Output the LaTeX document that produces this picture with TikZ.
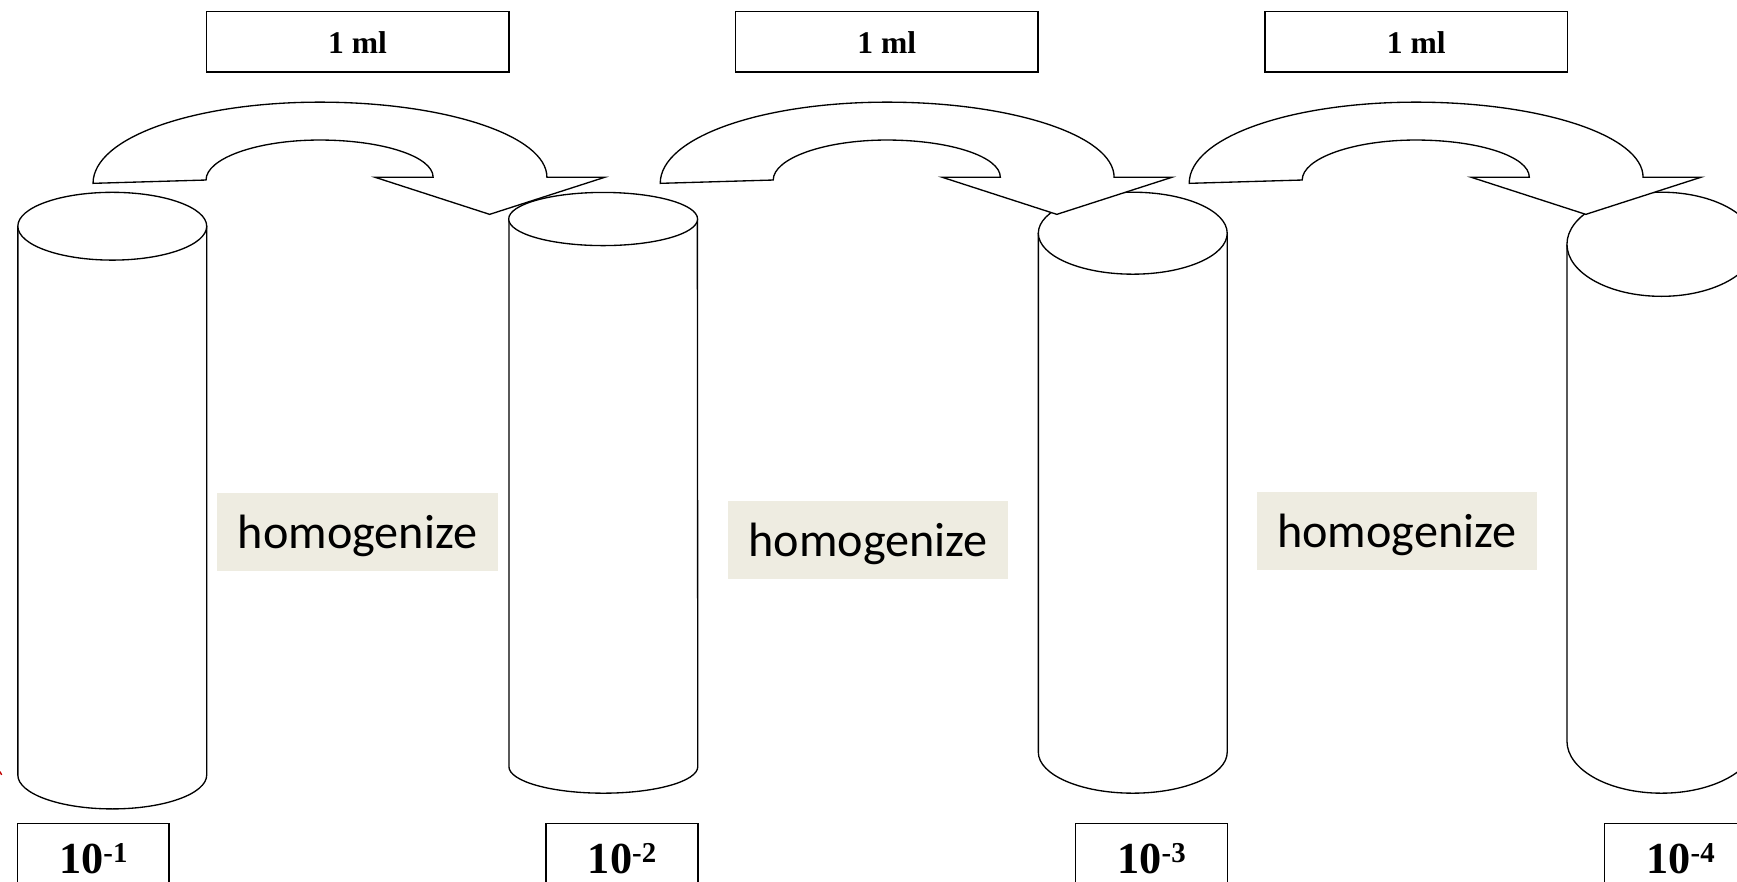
\documentclass[tikz,border=0pt]{standalone}
\usepackage{fontspec}
\setmainfont{Liberation Serif}
\newfontfamily\calib{Carlito}
\definecolor{beige}{HTML}{EEECE1}
\begin{document}
\begin{tikzpicture}[x=1pt,y=-1pt,
  mlbox/.style={draw, line width=1.3pt, minimum width=273pt, minimum height=54.5pt, inner sep=0pt,
    font=\bfseries\fontsize{28.5}{30}\selectfont, text height=25.7pt, text depth=5pt},
  homo/.style={fill=beige, draw=none, minimum width=253pt, minimum height=70pt, inner sep=0pt,
    font=\calib\fontsize{43.5}{45}\selectfont, text height=40pt, text depth=10pt},
  dilbox/.style={draw, line width=1.3pt, minimum width=137pt, minimum height=80pt, inner sep=0pt,
    font=\bfseries\fontsize{40}{42}\selectfont, text height=18.4pt, text depth=8pt},
  tube/.style={draw, fill=white, line width=1.2pt},
  bent/.style={draw, fill=white, line width=1.2pt, line join=miter}]
\path[use as bounding box] (0,0) rectangle (1568,796);
\clip (0,0) rectangle (1568,796);

% cylinders: name/xl/xr/ytop/ybot/ry
\foreach \n/\xl/\xr/\yt/\yb/\ry in {1/16.1/186.6/204.2/699.6/30.6, 2/459.4/629.5/197.7/692/24,
    3/937.3/1107.8/210.5/679/37, 4/1414.5/1585/220.5/669/47}{
  \draw[tube] (\xl,\yt) -- (\xl,\yb) arc[start angle=180, end angle=360, x radius=85.25pt, y radius=\ry pt] -- (\xr,\yt);
  \draw[tube] ({(\xl+\xr)/2},\yt) ellipse[x radius=85.25pt, y radius=\ry pt];
  \coordinate (cyl\n) at ({(\xl+\xr)/2},\yt);
}

% curved transfer arrows
\foreach \s in {0, 512, 989.5}{
  \begin{scope}[xshift=\s pt]
    \draw[bent] (84,165.5) .. controls (84,124) and (175.5,92.2) .. (288.7,92.2)
      .. controls (401.9,92.2) and (493.7,122.5) .. (493.7,160) -- (546,160) -- (442,193.5)
      -- (338.5,160) -- (391,160) .. controls (391,141.2) and (345,126.4) .. (288.5,126.4)
      .. controls (232,126.4) and (186,143) .. (186,162.5) -- cycle;
  \end{scope}
}

% volume boxes
\node[mlbox] (ml1) at (322.8,37.75) {1 ml};
\node[mlbox] (ml2) at (800.5,37.75) {1 ml};
\node[mlbox] (ml3) at (1278.5,37.75) {1 ml};

% homogenize labels
\node[homo] (h1) at (322.7,480.3) {homogenize};
\node[homo] (h2) at (783.8,487.5) {homogenize};
\node[homo] (h3) at (1260.8,479.2) {homogenize};

% dilution boxes
\node[dilbox] (d1) at (84.25,783.2) {10\raisebox{10pt}{\fontsize{26}{26}\selectfont -1}};
\node[dilbox] (d2) at (561.5,783.2) {10\raisebox{10pt}{\fontsize{26}{26}\selectfont -2}};
\node[dilbox] (d3) at (1039.5,783.2) {10\raisebox{10pt}{\fontsize{26}{26}\selectfont -3}};
\node[dilbox] (d4) at (1517,783.2) {10\raisebox{10pt}{\fontsize{26}{26}\selectfont -4}};

% small red mark at left edge
\draw[red!75!black, line width=1.2pt] (0,696.5) -- (1.5,699.5);
\end{tikzpicture}
\end{document}
